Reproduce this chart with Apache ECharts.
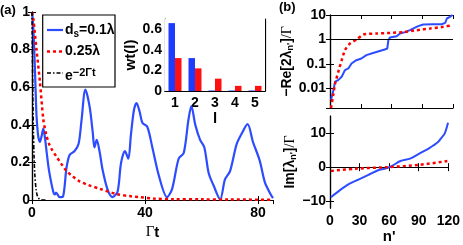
<!DOCTYPE html>
<html><head><meta charset="utf-8">
<script src="https://cdn.jsdelivr.net/npm/echarts@6/dist/echarts.min.js"></script>
<style>html,body{margin:0;padding:0;background:#fff}#c{width:463px;height:245px}</style>
</head><body><div id="c"></div>
<script>
// ---- Panel (a) main curves ----
const tBlue = [0,0.4,0.8,1.2,1.6,2.2,2.8,3.4,4,4.6,5.3,6.1,7.5,8.1,8.5,9.8,11,12.2,13.3,15,16.5,17.5,18.9,20.4,21.5,22.1,22.9,23.9,25,26.8,28.5,30.3,31.5,32.9,34.1,35,36.1,37,38.1,39.1,40.8,42.6,44.9,47.8,49.6,51.9,53.7,55.4,56.4,57.8,59.5,61,62.5,64.2,66.6,68.3,70.1,72.4,74.1,76.3,78.2,80.6,82.4,84.5,85.3];
const yBlue = [1,0.93,0.8,0.62,0.45,0.34,0.31,0.34,0.38,0.33,0.24,0.15,0.046,0.03,0.04,0.016,0.02,0.17,0.24,0.26,0.3,0.42,0.587,0.496,0.36,0.28,0.32,0.26,0.16,0.054,0.016,0.046,0.196,0.26,0.22,0.346,0.48,0.516,0.47,0.41,0.39,0.28,0.13,0.016,0.06,0.22,0.25,0.43,0.5,0.4,0.32,0.28,0.146,0.08,0.004,0.11,0.154,0.296,0.35,0.404,0.31,0.21,0.096,0.03,0.01];
const tRed = [0,0.5,1.6,2.8,4,5,6,7,8.7,10.5,12.2,14.5,16.8,20,24,30,35,38,43,50,60,70,85.3];
const yRed = [1,0.96,0.8,0.63,0.43,0.35,0.3,0.27,0.23,0.19,0.155,0.125,0.1,0.08,0.06,0.032,0.02,0.016,0.008,0.005,0.004,0.003,0.002];
const tBlack = [0,0.25,0.5,0.75,1,1.5,2,2.5,3,4,5];
const yBlack = [1,0.61,0.37,0.22,0.135,0.05,0.018,0.007,0.0025,0,0];
const legendLabels = ['{m|d}{s|s}{m|=0.1λ}', '{m|0.25λ}', '{m|e}{p|−2Γt}'];
// ---- Inset bars ----
const barCats = ['1','2','3','4','5'];
const barBlue = [0.66,0.32,0.005,0.005,0.005];
const barRed = [0.32,0.22,0.12,0.05,0.05];
// ---- Panel (b) top: -Re[2 lambda]/Gamma (log) ----
const nReBlue = [1,3.3,5,8,11.4,14.6,17.9,21,25.7,30.6,35.5,42,48.5,53.4,55.9,56.9,58.5,65,68.3,73.2,78,86,91,100.8,109,112.4,114,117,119.6];
const reBlue = [0.0035,0.0085,0.019,0.022,0.03,0.056,0.066,0.105,0.143,0.168,0.23,0.28,0.34,0.39,0.43,0.93,1.2,1.36,1.75,2.0,2.4,3.5,4.1,4.2,4.2,4.8,7.2,8.4,10];
const nReRed = [1,3.3,5,8.1,11.4,14.6,19.5,26,32.5,45.5,58.5,71.5,84.6,97.6,110.6,119];
const reRed = [0.0016,0.006,0.016,0.048,0.143,0.37,0.69,1.0,1.6,1.75,1.86,2.0,2.4,2.8,3.3,3.8];
// ---- Panel (b) bottom: Im[lambda]/Gamma ----
const nImBlue = [1,9.8,19.5,29.3,39,48.8,55.3,61.8,71.5,81.3,91,100.8,109,113,116.4,119.7];
const imBlue = [-8.8,-6.8,-4.9,-3.6,-2.25,-0.9,-0.45,0.2,1.8,2.5,4.05,5.6,7.2,8.6,9.9,13];
const nImRed = [1,26,58.5,91,119];
const imRed = [-1.1,-0.45,0,0.7,1.8];
const imTicks = [-10,0,10];

const zip = (a,b) => a.map((v,i)=>[v,b[i]]);
const BLUE = '#2d4cff', RED = '#ff0000';
const FF = '"Liberation Sans", Arial, sans-serif';
const lab = {color:'#000', fontFamily:FF, fontWeight:'bold', fontSize:14};
const tickIn = {show:true, inside:true, length:4, lineStyle:{color:'#000', width:1}};
const aLine = {show:true, lineStyle:{color:'#000', width:1.2}};
const legRich = {
  m:{fontSize:14, fontWeight:'bold', fontFamily:FF, fill:'#000', color:'#000', lineHeight:18},
  s:{fontSize:10, fontWeight:'bold', fontFamily:FF, fill:'#000', color:'#000', verticalAlign:'bottom', lineHeight:18},
  p:{fontSize:11, fontWeight:'bold', fontFamily:FF, fill:'#000', color:'#000', verticalAlign:'top', lineHeight:18}
};
const legStyles = [
  {stroke:BLUE, lineWidth:2.2},
  {stroke:RED, lineWidth:2.5, lineDash:[3,3]},
  {stroke:'#000', lineWidth:1.6, lineDash:[4,2,1.5,2]}
];
const legY = [30, 51.5, 73];
const legTextDy = [0, 0, 3];
const legendGraphic = [{type:'rect', shape:{x:42.7, y:15, width:72.3, height:72}, style:{fill:'#fff', stroke:'#000', lineWidth:1.2}, z:100}];
legY.forEach((y,i)=>{
  legendGraphic.push({type:'line', shape:{x1:47, y1:y, x2:63, y2:y}, style:legStyles[i], z:101});
  legendGraphic.push({type:'text', x:65, y:y+legTextDy[i], style:{text:legendLabels[i], rich:legRich, verticalAlign:'middle', align:'left', fill:'#000'}, z:101});
});

const chart = echarts.init(document.getElementById('c'), null, {renderer:'canvas'});
chart.setOption({
  animation:false,
  backgroundColor:'#fff',
  textStyle:{fontFamily:FF},
  title:[
    {text:'(a)', left:0, top:4, padding:0, textStyle:{fontSize:13, fontWeight:'bold', fontFamily:FF, color:'#000'}},
    {text:'(b)', left:279, top:1, padding:0, textStyle:{fontSize:13, fontWeight:'bold', fontFamily:FF, color:'#000'}}
  ],
  graphic:legendGraphic,
  grid:[
    {left:32, top:12, width:241, height:200.5},
    {left:165, top:19, width:100, height:72, show:true, backgroundColor:'#fff', borderWidth:0, z:5},
    {left:330, top:15, width:123, height:93},
    {left:330, top:116, width:123, height:98}
  ],
  xAxis:[
    {type:'value', gridIndex:0, min:0, max:85.3, interval:40, position:'bottom',
     axisLine:aLine, axisTick:tickIn, splitLine:{show:false},
     axisLabel:Object.assign({}, lab, {margin:6, showMaxLabel:false, showMinLabel:true}),
     name:'{g|Γ}{b|t}', nameLocation:'middle', nameGap:18,
     nameTextStyle:{rich:{g:{fontFamily:'"Liberation Serif", serif', fontSize:15, color:'#000'}, b:{fontFamily:FF, fontWeight:'bold', fontSize:15, color:'#000'}}}},
    {type:'value', gridIndex:0, min:0, max:85.3, interval:40, position:'top',
     axisLine:aLine, axisTick:tickIn, splitLine:{show:false}, axisLabel:{show:false}},
    {type:'category', gridIndex:1, data:barCats, position:'bottom',
     axisLine:aLine, axisTick:{show:false}, splitLine:{show:false},
     axisLabel:Object.assign({}, lab, {margin:5}),
     name:'l', nameLocation:'middle', nameGap:20,
     nameTextStyle:{fontFamily:FF, fontWeight:'bold', fontSize:15, color:'#000'}},
    {type:'value', gridIndex:2, min:0, max:120, interval:30, position:'bottom',
     axisLine:aLine, axisTick:tickIn, splitLine:{show:false}, axisLabel:{show:false}},
    {type:'value', gridIndex:3, min:0, max:120, interval:30, position:'bottom',
     axisLine:aLine, axisTick:tickIn, splitLine:{show:false},
     axisLabel:Object.assign({}, lab, {margin:6}),
     name:"n'", nameLocation:'middle', nameGap:18,
     nameTextStyle:{fontFamily:FF, fontWeight:'bold', fontSize:15, color:'#000'}},
    {type:'value', gridIndex:3, min:0, max:120, interval:30, position:'top',
     axisLine:aLine, axisTick:tickIn, splitLine:{show:false}, axisLabel:{show:false}},
    {type:'category', gridIndex:1, data:barCats, position:'top',
     axisLine:aLine, axisTick:{show:false}, splitLine:{show:false}, axisLabel:{show:false}},
    {type:'value', gridIndex:2, min:0, max:120, interval:30, position:'top',
     axisLine:aLine, axisTick:tickIn, splitLine:{show:false}, axisLabel:{show:false}}
  ],
  yAxis:[
    {type:'value', gridIndex:0, min:0, max:1, interval:0.2, position:'left',
     axisLine:aLine, axisTick:tickIn, splitLine:{show:false},
     axisLabel:Object.assign({}, lab, {margin:2})},
    {type:'value', gridIndex:0, min:0, max:1, interval:0.2, position:'right',
     axisLine:aLine, axisTick:tickIn, splitLine:{show:false}, axisLabel:{show:false}},
    {type:'value', gridIndex:1, min:0, max:0.7, interval:0.2, position:'left',
     axisLine:aLine, axisTick:tickIn, splitLine:{show:false},
     axisLabel:Object.assign({}, lab, {margin:3, showMaxLabel:false}),
     name:'wt(l)', nameLocation:'middle', nameRotate:90, nameGap:24,
     nameTextStyle:{fontFamily:FF, fontWeight:'bold', fontSize:15, color:'#000'}},
    {type:'value', gridIndex:1, min:0, max:0.7, interval:0.2, position:'right',
     axisLine:aLine, axisTick:tickIn, splitLine:{show:false}, axisLabel:{show:false}},
    {type:'log', gridIndex:2, min:0.0016, max:10, position:'left',
     axisLine:aLine, axisTick:tickIn, splitLine:{show:false},
     axisLabel:Object.assign({}, lab, {margin:4, showMinLabel:false}),
     name:'{b|−Re[2λ}{s|n\'}{b|]}{g|/Γ}', nameLocation:'middle', nameRotate:90, nameGap:32,
     nameTextStyle:{rich:{b:{fontFamily:FF, fontWeight:'bold', fontSize:14, color:'#000'}, s:{fontFamily:FF, fontWeight:'bold', fontSize:9, color:'#000', verticalAlign:'bottom', padding:[6,0,0,0]}, g:{fontFamily:'"Liberation Serif", serif', fontSize:14, color:'#000'}}}},
    {type:'log', gridIndex:2, min:0.0016, max:10, position:'right',
     axisLine:aLine, axisTick:tickIn, splitLine:{show:false}, axisLabel:{show:false}},
    {type:'value', gridIndex:3, min:-12, max:15, position:'left',
     axisLine:aLine, axisTick:Object.assign({}, tickIn, {customValues:imTicks}), splitLine:{show:false},
     axisLabel:Object.assign({}, lab, {margin:4, customValues:imTicks, formatter:v=>String(v).replace('-','−')}),
     name:'{b|Im[λ}{s|n\'}{b|]}{g|/Γ}', nameLocation:'middle', nameRotate:90, nameGap:32,
     nameTextStyle:{rich:{b:{fontFamily:FF, fontWeight:'bold', fontSize:14, color:'#000'}, s:{fontFamily:FF, fontWeight:'bold', fontSize:9, color:'#000', verticalAlign:'bottom', padding:[6,0,0,0]}, g:{fontFamily:'"Liberation Serif", serif', fontSize:14, color:'#000'}}}},
    {type:'value', gridIndex:3, min:-12, max:15, position:'right',
     axisLine:aLine, axisTick:Object.assign({}, tickIn, {customValues:imTicks}), splitLine:{show:false}, axisLabel:{show:false}}
  ],
  series:[
    {name:'d_s=0.1λ', type:'line', xAxisIndex:0, yAxisIndex:0, data:zip(tBlue,yBlue), showSymbol:false, symbol:'none', smooth:0.3,
     lineStyle:{color:BLUE, width:2.2}, itemStyle:{color:BLUE}, z:3},
    {name:'0.25λ', type:'line', xAxisIndex:0, yAxisIndex:0, data:zip(tRed,yRed), showSymbol:false, symbol:'none', smooth:0.3,
     lineStyle:{color:RED, width:2.5, type:[3,3]}, itemStyle:{color:RED}, z:4},
    {name:'e^-2Γt', type:'line', xAxisIndex:0, yAxisIndex:0, data:zip(tBlack,yBlack), showSymbol:false, symbol:'none', smooth:0.3,
     lineStyle:{color:'#000', width:1.6, type:[4,2,1.5,2]}, itemStyle:{color:'#000'}, z:4},
    {name:'barB', type:'bar', xAxisIndex:2, yAxisIndex:2, data:barBlue, barWidth:6.5, barGap:'0%', itemStyle:{color:'#1e3cff'}, z:6},
    {name:'barR', type:'bar', xAxisIndex:2, yAxisIndex:2, data:barRed, barWidth:6.5, barGap:'0%', itemStyle:{color:'#ff1010'}, z:6},
    {name:'reB', type:'line', xAxisIndex:3, yAxisIndex:4, data:zip(nReBlue,reBlue), showSymbol:false, symbol:'none',
     lineStyle:{color:BLUE, width:2}, z:3,
     markLine:{silent:true, symbol:'none', label:{show:false}, lineStyle:{color:'#000', width:1.2, type:'solid'}, data:[{yAxis:1}]}},
    {name:'reR', type:'line', xAxisIndex:3, yAxisIndex:4, data:zip(nReRed,reRed), showSymbol:false, symbol:'none', smooth:0.2,
     lineStyle:{color:RED, width:2.5, type:[3,3]}, z:4},
    {name:'imB', type:'line', xAxisIndex:4, yAxisIndex:6, data:zip(nImBlue,imBlue), showSymbol:false, symbol:'none', smooth:0.3,
     lineStyle:{color:BLUE, width:2}, z:3},
    {name:'imR', type:'line', xAxisIndex:4, yAxisIndex:6, data:zip(nImRed,imRed), showSymbol:false, symbol:'none', smooth:0.3,
     lineStyle:{color:RED, width:2.5, type:[3,3]}, z:4}
  ]
});
</script></body></html>
